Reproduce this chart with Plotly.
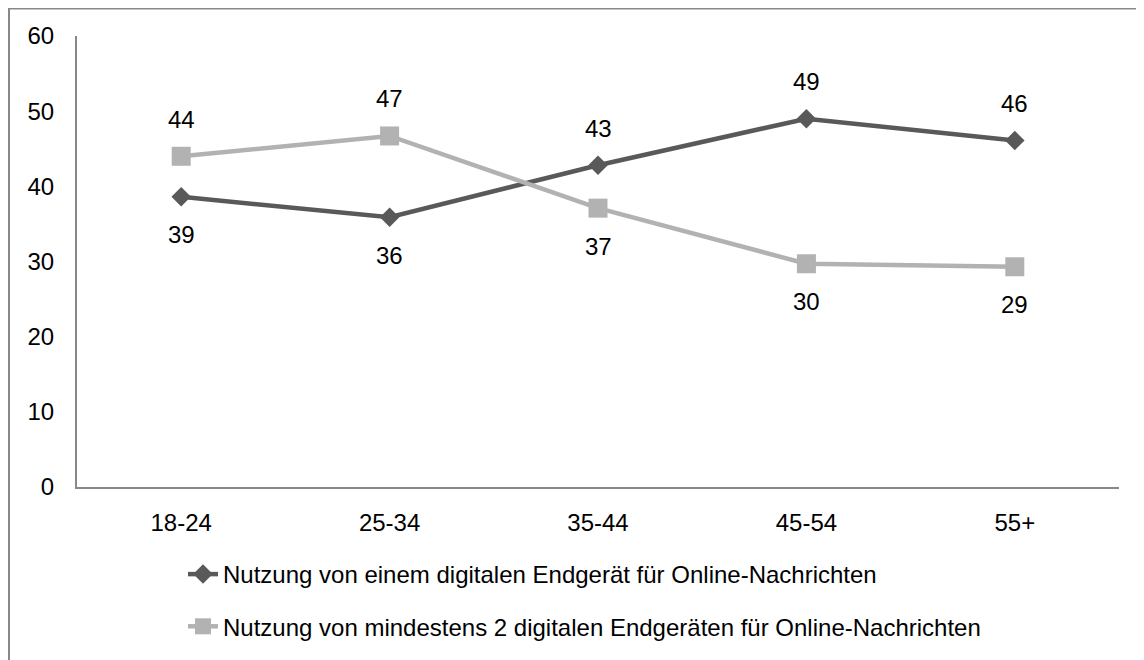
import plotly.graph_objects as go

categories = ["18-24", "25-34", "35-44", "45-54", "55+"]
one_device = [38.6, 35.9, 42.8, 49.0, 46.1]
two_devices = [44.0, 46.7, 37.1, 29.7, 29.3]
one_labels = ["39", "36", "43", "49", "46"]
two_labels = ["44", "47", "37", "30", "29"]
one_pos = ["below", "below", "above", "above", "above"]
two_pos = ["above", "above", "below", "below", "below"]
name_one = "Nutzung von einem digitalen Endgerät für Online-Nachrichten"
name_two = "Nutzung von mindestens 2 digitalen Endgeräten für Online-Nachrichten"

DARK = "#595959"
LIGHT = "#B2B2B2"
FONT = "Liberation Sans"
FS = 24

fig = go.Figure()
fig.add_trace(go.Scatter(
    x=categories, y=one_device, mode="lines+markers", name=name_one,
    line=dict(color=DARK, width=4.5),
    marker=dict(symbol="diamond", size=15, color=DARK),
    legendgroup="a",
))
fig.add_trace(go.Scatter(
    x=categories, y=two_devices, mode="lines+markers", name=name_two,
    line=dict(color=LIGHT, width=4.5),
    marker=dict(symbol="square", size=19, color=LIGHT),
    legendgroup="b",
))

annotations = []
for xs, ys, labs, poss in [(categories, one_device, one_labels, one_pos),
                           (categories, two_devices, two_labels, two_pos)]:
    for c, v, t, p in zip(xs, ys, labs, poss):
        annotations.append(dict(
            x=c, y=v, text=t, showarrow=False, xref="x", yref="y",
            yshift=37 if p == "above" else -38,
            font=dict(family=FONT, size=FS, color="#000000"),
        ))

# page is offset by 8px body margin; figure coordinates below
W, H = 1144, 660
L, R, T, B = 69, 33, 28, 181
pw, ph = W - L - R, H - T - B

def px(x):
    return (x - L) / pw

def py(y):
    return (H - B - y) / ph

shapes = [dict(
    type="path", xref="paper", yref="paper",
    path=f"M {px(1)} {py(670)} L {px(1)} {py(0.5)} L {px(1160)} {py(0.5)}",
    line=dict(color="#888888", width=2),
)]

fig.update_layout(
    width=W, height=H,
    margin=dict(l=L, r=R, t=T, b=B),
    paper_bgcolor="white", plot_bgcolor="white",
    font=dict(family=FONT, size=FS, color="#000000"),
    showlegend=True,
    legend=dict(
        x=px(175), y=py(544), xanchor="left", yanchor="top",
        traceorder="grouped", tracegroupgap=18,
        font=dict(family=FONT, size=FS, color="#000000"),
        bgcolor="rgba(0,0,0,0)",
    ),
    xaxis=dict(
        type="category", range=[-0.5, 4.5], showgrid=False, zeroline=False,
        showline=True, linecolor="#888888", linewidth=2, ticks="",
        ticklabelstandoff=13, tickfont=dict(family=FONT, size=FS),
    ),
    yaxis=dict(
        range=[0, 60], dtick=10, showgrid=False, zeroline=False,
        showline=True, linecolor="#888888", linewidth=2, ticks="",
        ticklabelstandoff=16, tickfont=dict(family=FONT, size=FS),
    ),
    annotations=annotations,
    shapes=shapes,
)

fig.write_html("out.html")
